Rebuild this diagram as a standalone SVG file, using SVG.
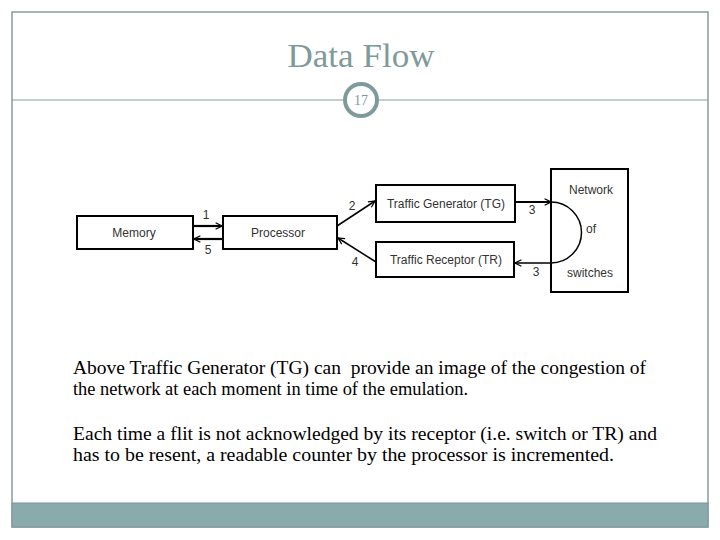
<svg xmlns="http://www.w3.org/2000/svg" width="720" height="540" viewBox="0 0 720 540">
<style>
.frame{fill:none;stroke:#8c9c9c;stroke-width:1.5}
.box{fill:#fff;stroke:#000;stroke-width:2}
.lbl{font-family:"Liberation Sans",Arial,sans-serif;font-size:12px;fill:#333;text-anchor:middle}
.num{font-family:"Liberation Sans",Arial,sans-serif;font-size:12px;fill:#333;text-anchor:middle}
.body{font-family:"Liberation Serif","Times New Roman",serif;font-size:18px;fill:#000;white-space:pre}
.conn{fill:none;stroke:#000;stroke-width:1.5}
.thick{stroke-width:2.2}
</style>
<defs>
<marker id="ah" viewBox="0 0 10 10" refX="9" refY="5" markerWidth="8" markerHeight="8" markerUnits="userSpaceOnUse" orient="auto">
<path d="M1,1 L9,5 L1,9" fill="none" stroke="#000" stroke-width="1.5"/>
</marker>
</defs>
<rect width="720" height="540" fill="#fff"/>
<g id="slide">
<rect class="frame" x="12" y="12" width="696" height="515"/>
<rect x="12" y="503" width="696" height="24" fill="#8aabab" stroke="#7c9494" stroke-width="1"/>
<text x="361" y="67" font-family="'Liberation Serif','Times New Roman',serif" font-size="34" fill="#7f9a9a" text-anchor="middle" textLength="147" lengthAdjust="spacingAndGlyphs">Data Flow</text>
<line x1="12" y1="100" x2="708" y2="100" stroke="#8c9c9c" stroke-width="1.2"/>
<circle cx="361" cy="100" r="16" fill="#fff" stroke="#7f9a9a" stroke-width="4"/>
<text x="361" y="105" font-family="'Liberation Serif','Times New Roman',serif" font-size="14" fill="#7f9a9a" text-anchor="middle">17</text>
</g>
<g id="memory">
<rect class="box" x="77" y="216" width="116" height="33"/>
<text class="lbl" x="134" y="237">Memory</text>
</g>
<g id="processor">
<rect class="box" x="223" y="216" width="114" height="33"/>
<text class="lbl" x="278" y="237">Processor</text>
</g>
<g id="tg">
<rect class="box" x="376" y="185" width="139" height="37"/>
<text class="lbl" x="446" y="208">Traffic Generator (TG)</text>
</g>
<g id="tr">
<rect class="box" x="376" y="242" width="138" height="35"/>
<text class="lbl" x="446" y="264">Traffic Receptor (TR)</text>
</g>
<g id="network">
<rect class="box" x="551" y="169" width="77" height="123"/>
<text class="lbl" x="591" y="194">Network</text>
<text class="lbl" x="591" y="233">of</text>
<text class="lbl" x="590" y="277">switches</text>
</g>
<g id="connectors">
<line class="conn thick" x1="193" y1="226" x2="222" y2="226" marker-end="url(#ah)"/>
<line class="conn thick" x1="223" y1="239" x2="194" y2="239" marker-end="url(#ah)"/>
<line class="conn" x1="337" y1="226" x2="375" y2="201" marker-end="url(#ah)"/>
<line class="conn" x1="376" y1="262" x2="338" y2="238" marker-end="url(#ah)"/>
<line class="conn thick" x1="515" y1="202" x2="551" y2="202" marker-end="url(#ah)"/>
<path class="conn" d="M551,202 A30.5,30.5 0 0 1 551,263 L515,263" marker-end="url(#ah)"/>
<text class="num" x="206" y="219">1</text>
<text class="num" x="208" y="254">5</text>
<text class="num" x="352" y="210">2</text>
<text class="num" x="355" y="266">4</text>
<text class="num" x="532" y="214">3</text>
<text class="num" x="536" y="276">3</text>
</g>
<g id="body">
<text class="body" x="73" y="374" textLength="573" lengthAdjust="spacingAndGlyphs">Above Traffic Generator (TG) can  provide an image of the congestion of</text>
<text class="body" x="73" y="395" textLength="395" lengthAdjust="spacingAndGlyphs">the network at each moment in time of the emulation.</text>
<text class="body" x="73" y="440" textLength="584" lengthAdjust="spacingAndGlyphs">Each time a flit is not acknowledged by its receptor (i.e. switch or TR) and</text>
<text class="body" x="73" y="461" textLength="541" lengthAdjust="spacingAndGlyphs">has to be resent, a readable counter by the processor is incremented.</text>
</g>
</svg>
